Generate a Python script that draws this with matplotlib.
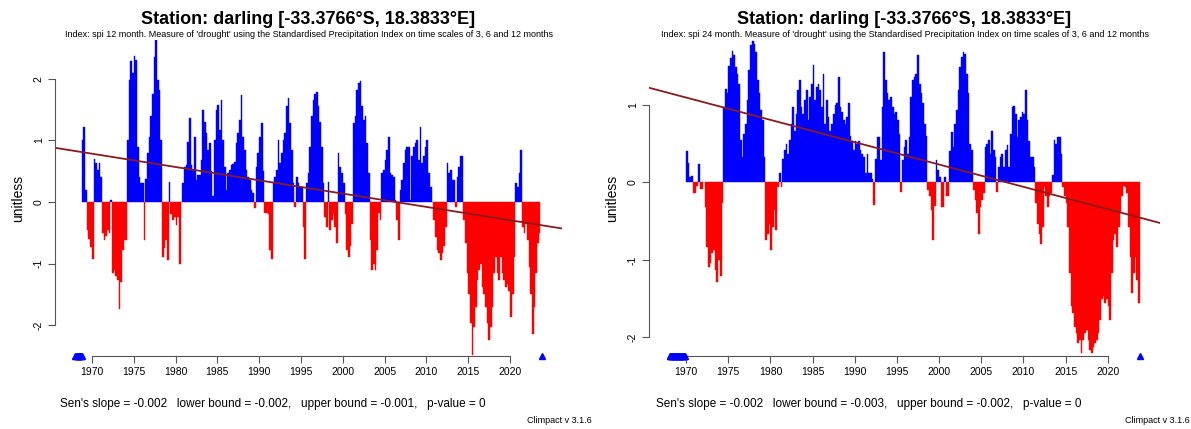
import numpy as np
import matplotlib
matplotlib.use("Agg")
import matplotlib.pyplot as plt

plt.rcParams['font.family'] = ['Liberation Sans', 'DejaVu Sans']

station = "Station: darling [-33.3766°S, 18.3833°E]"
subtitles = [
    "Index: spi 12 month. Measure of 'drought' using the Standardised Precipitation Index on time scales of 3, 6 and 12 months",
    "Index: spi 24 month. Measure of 'drought' using the Standardised Precipitation Index on time scales of 3, 6 and 12 months",
]

# SPI values every 0.2 year, starting at the given decimal year
spi12_start = 1968.8
spi12 = [
    1.00,                                # 1968
    1.21, 0.20, -0.45, -0.60, -0.73,     # 1969
    -0.92, 0.69, 0.63, 0.52, 0.64,       # 1970
    0.40, -0.50, -0.62, -0.55, -0.45,    # 1971
    -0.50, 0.03, -1.16, -1.10, -1.20,    # 1972
    -1.27, -1.73, -1.30, -0.78, -0.62,   # 1973
    -0.62, 1.00, 1.98, 2.28, 2.09,       # 1974
    2.37, 2.30, 0.90, 0.40, 0.30,        # 1975
    0.30, -0.62, 0.38, 0.79, 1.06,       # 1976
    1.40, 1.75, 2.36, 2.63, 1.98,        # 1977
    1.82, 1.00, -0.89, -0.75, -0.62,     # 1978
    -0.94, 0.33, -0.20, -0.30, -0.25,    # 1979
    -0.37, -0.25, -1.00, 0.00, 0.30,     # 1980
    0.57, 0.60, 0.98, 1.36, 0.60,        # 1981
    0.52, 1.06, 0.36, 0.44, 0.44,        # 1982
    0.68, 1.50, 1.30, 1.12, 0.85,        # 1983
    0.95, 0.50, 0.09, 1.00, 1.50,        # 1984
    1.58, 1.17, 1.66, 1.00, 0.57,        # 1985
    0.20, 0.47, 0.52, 0.60, 0.62,        # 1986
    0.65, 0.95, 1.12, 1.33, 1.74,        # 1987
    1.06, 0.85, 0.52, 0.40, 0.36,        # 1988
    0.20, 0.15, -0.10, 0.57, 0.79,       # 1989
    1.06, 1.28, 0.50, -0.18, -0.18,      # 1990
    -0.20, -0.78, -0.92, 0.30, 0.40,     # 1991
    0.52, 1.00, 0.63, 0.79, 1.00,        # 1992
    1.12, 1.55, 1.69, 1.28, 0.85,        # 1993
    0.30, -0.08, 0.41, 0.30, 0.25,       # 1994
    0.25, -0.40, -0.92, 0.30, 0.47,      # 1995
    0.90, 1.40, 1.65, 1.75, 1.79,        # 1996
    1.55, 1.30, 0.90, 0.30, -0.24,       # 1997
    -0.40, 0.33, -0.45, -0.30, -0.20,    # 1998
    -0.40, -0.67, 0.79, 0.57, 0.47,      # 1999
    0.30, -0.20, -0.78, -0.89, -0.72,    # 2000
    -0.35, 1.28, 1.39, 1.82, 1.93,       # 2001
    1.96, 1.55, 1.33, 1.39, 0.95,        # 2002
    0.47, -0.62, -1.11, -1.00, -1.11,    # 2003
    -0.78, -0.18, -0.29, 0.47, 0.52,     # 2004
    0.68, 0.85, 1.06, 0.47, 0.44,        # 2005
    0.41, 0.03, -0.30, -0.62, 0.20,      # 2006
    0.36, 0.63, 0.85, 0.90, 0.90,        # 2007
    0.03, 0.74, 0.90, 0.95, 1.00,        # 2008
    0.68, 1.22, 0.63, 0.74, 0.90,        # 2009
    1.00, 0.47, 0.25, 0.00, -0.30,       # 2010
    -0.56, -0.78, -0.83, -0.94, -0.83,   # 2011
    -0.72, -0.40, 0.63, 0.47, 0.52,      # 2012
    0.36, 0.36, -0.08, 0.41, 0.57,       # 2013
    0.74, 0.74, -0.30, -0.67, -1.16,     # 2014
    -1.49, -1.97, -2.49, -2.03, -1.70,   # 2015
    -1.27, -1.11, -1.00, -1.38, -1.49,   # 2016
    -1.70, -1.97, -2.24, -2.03, -1.70,   # 2017
    -1.16, -0.89, -1.16, -1.27, -0.89,   # 2018
    -1.16, -1.27, -1.38, -1.33, -1.44,   # 2019
    -1.86, -1.49, -0.89, 0.30, 0.25,     # 2020
    0.47, 0.85, -0.40, -0.51, -0.35,     # 2021
    -0.62, -1.05, -1.49, -2.14, -1.70,   # 2022
    -1.16, -0.67, -0.51,                 # 2023
]

spi24_start = 1970.0
spi24 = [
    0.40, 0.25, 0.07, 0.09, -0.14,       # 1970
    -0.14, -0.05, 0.24, -0.08, -0.08,    # 1971
    0.00, -0.31, -0.83, -1.09, -1.04,    # 1972
    -0.91, -0.87, -1.13, -1.28, -1.00,   # 1973
    -1.21, -0.27, 0.97, 1.21, 1.15,      # 1974
    1.50, 1.60, 1.70, 1.64, 1.49,        # 1975
    1.40, 1.27, 0.55, 0.33, 0.63,        # 1976
    0.76, 1.06, 1.45, 1.77, 1.83,        # 1977
    1.79, 1.68, 1.32, 1.15, 0.93,        # 1978
    0.80, 0.33, -0.74, -0.66, -0.53,     # 1979
    -0.87, -0.57, -0.36, -0.61, -0.06,   # 1980
    0.12, -0.06, 0.30, 0.42, 0.50,       # 1981
    0.37, 0.55, 0.76, 0.97, 0.67,        # 1982
    0.89, 1.19, 1.32, 0.97, 0.89,        # 1983
    1.06, 1.19, 0.80, 1.10, 1.27,        # 1984
    1.51, 1.06, 1.23, 1.27, 1.19,        # 1985
    0.97, 1.40, 0.76, 1.06, 0.85,        # 1986
    0.67, 0.76, 0.89, 1.00, 1.02,        # 1987
    1.36, 0.97, 0.91, 0.80, 0.76,        # 1988
    0.85, 1.02, 0.60, 0.54, 0.42,        # 1989
    0.54, 0.50, 0.54, 0.42, 0.37,        # 1990
    0.33, 0.12, 0.37, 0.12, 0.12,        # 1991
    0.05, -0.29, 0.30, 0.59, 0.59,       # 1992
    0.29, 0.97, 1.68, 1.32, 1.15,        # 1993
    1.06, 1.10, 0.97, 0.89, 0.91,        # 1994
    0.80, 0.63, -0.12, 0.29, 0.46,       # 1995
    0.55, 0.37, 0.59, 1.10, 1.32,        # 1996
    1.36, 1.40, 1.64, 1.27, 1.15,        # 1997
    1.02, 0.76, 0.60, -0.10, -0.18,      # 1998
    -0.36, -0.74, -0.30, 0.29, 0.16,     # 1999
    0.07, -0.31, -0.31, 0.07, -0.18,     # 2000
    -0.18, 0.40, 0.65, 0.46, 0.76,       # 2001
    0.93, 1.19, 1.49, 1.62, 1.68,        # 2002
    1.66, 1.40, 1.15, 0.50, 0.42,        # 2003
    -0.10, -0.23, -0.40, -0.66, -0.31,   # 2004
    -0.23, -0.14, 0.46, 0.50, 0.55,      # 2005
    0.37, 0.67, 0.42, 0.33, -0.12,       # 2006
    0.20, 0.33, 0.37, 0.20, 0.42,        # 2007
    0.48, 0.20, 0.63, 0.97, 0.99,        # 2008
    0.89, 0.59, 0.80, 0.85, 0.91,        # 2009
    0.89, 1.19, 0.80, 0.54, 0.33,        # 2010
    0.33, 0.20, -0.27, -0.53, -0.66,     # 2011
    -0.79, -0.57, -0.06, -0.18, -0.31,   # 2012
    -0.18, -0.14, 0.10, 0.55, 0.50,      # 2013
    0.59, 0.59, 0.37, -0.06, -0.18,      # 2014
    -0.27, -0.57, -1.17, -1.60, -1.69,   # 2015
    -1.86, -1.94, -2.07, -2.03, -2.20,   # 2016
    -2.03, -1.94, -1.90, -2.03, -2.16,   # 2017
    -2.20, -2.12, -2.07, -2.03, -1.94,   # 2018
    -1.77, -1.51, -1.47, -1.56, -1.51,   # 2019
    -1.60, -1.77, -1.17, -0.74, -0.66,   # 2020
    -0.83, -0.57, -0.40, -0.18, -0.05,   # 2021
    -0.06, -0.14, -0.57, -0.96, -1.43,   # 2022
    -1.17, -0.96, -1.26, -1.56,          # 2023
]

# months with no value (drawn as triangles on the bottom edge)
missing12 = [1968.04, 1968.13, 1968.21, 1968.29, 1968.38, 1968.46, 1968.54,
             1968.63, 1968.71, 1968.79, 2023.83]
missing24 = [1968.04, 1968.13, 1968.21, 1968.29, 1968.38, 1968.46, 1968.54,
             1968.63, 1968.71, 1968.79, 1968.88, 1968.96, 1969.04, 1969.13,
             1969.21, 1969.29, 1969.38, 1969.46, 1969.54, 1969.63, 1969.71,
             1969.79, 1969.88, 2023.83]

# Sen's slope (per month), its bounds, and the trend value at 1970
sens_slope = [-0.0018, -0.0024]
lower_bound = [-0.002, -0.003]
upper_bound = [-0.001, -0.002]
p_value = [0, 0]
trend_1970 = [0.784, 1.096]

years = [1970, 1975, 1980, 1985, 1990, 1995, 2000, 2005, 2010, 2015, 2020]

fig = plt.figure(figsize=(11.91, 4.29), dpi=100)
ax1 = fig.add_axes([0.0462, 0.170, 0.4257, 0.737])
ax2 = fig.add_axes([0.5449, 0.170, 0.4291, 0.737])

axis_col = "#555555"


def spi_panel(ax, start, values, missing, ylim, yticks, i):
    values = np.array(values)
    t = start + 0.2 * np.arange(len(values))
    colors = np.where(values >= 0, "blue", "red")
    ax.bar(t, values, width=0.2, align="edge", color=colors,
           edgecolor=colors, linewidth=0.3)

    ax.axline((1970, trend_1970[i]), slope=sens_slope[i] * 12,
              color="#8b1a1a", lw=1.3)

    ax.plot(missing, [ylim[0]] * len(missing), "^", color="blue", ms=5,
            clip_on=False, zorder=5)

    ax.set_xlim(1965.6, 2026.2)
    ax.set_ylim(ylim)
    for s in ["top", "right"]:
        ax.spines[s].set_visible(False)
    ax.spines["left"].set_bounds(yticks[0], yticks[-1])
    ax.spines["bottom"].set_bounds(years[0], years[-1])
    for s in ["left", "bottom"]:
        ax.spines[s].set_color(axis_col)
        ax.spines[s].set_linewidth(0.8)
    ax.set_xticks(years)
    ax.set_yticks(yticks)
    ax.set_yticklabels([str(v) for v in yticks], rotation=90, va="center")
    ax.tick_params(direction="out", length=5, width=0.8, color=axis_col,
                   labelsize=7.5, pad=3)
    ax.set_ylabel("unitless", fontsize=10, labelpad=6)

    pos = ax.get_position()
    cx = pos.x0 + pos.width / 2
    fig.text(cx, 0.955, station, ha="center", va="center",
             fontsize=13, fontweight="bold")
    fig.text(cx, 0.92, subtitles[i], ha="center", va="center", fontsize=6.5)
    fig.text(cx - 0.030, 0.058,
             "Sen's slope = %.3f   lower bound = %.3f,   upper bound = %.3f,   p-value = %d"
             % (sens_slope[i], lower_bound[i], upper_bound[i], p_value[i]),
             ha="center", va="center", fontsize=8.5)
    fig.text(pos.x1 + 0.025, 0.019, "Climpact v 3.1.6", ha="right",
             va="center", fontsize=6.5)


spi_panel(ax1, spi12_start, spi12, missing12, (-2.5, 2.63), [-2, -1, 0, 1, 2], 0)
spi_panel(ax2, spi24_start, spi24, missing24, (-2.24, 1.84), [-2, -1, 0, 1], 1)

fig.savefig("out.png", dpi=100)
